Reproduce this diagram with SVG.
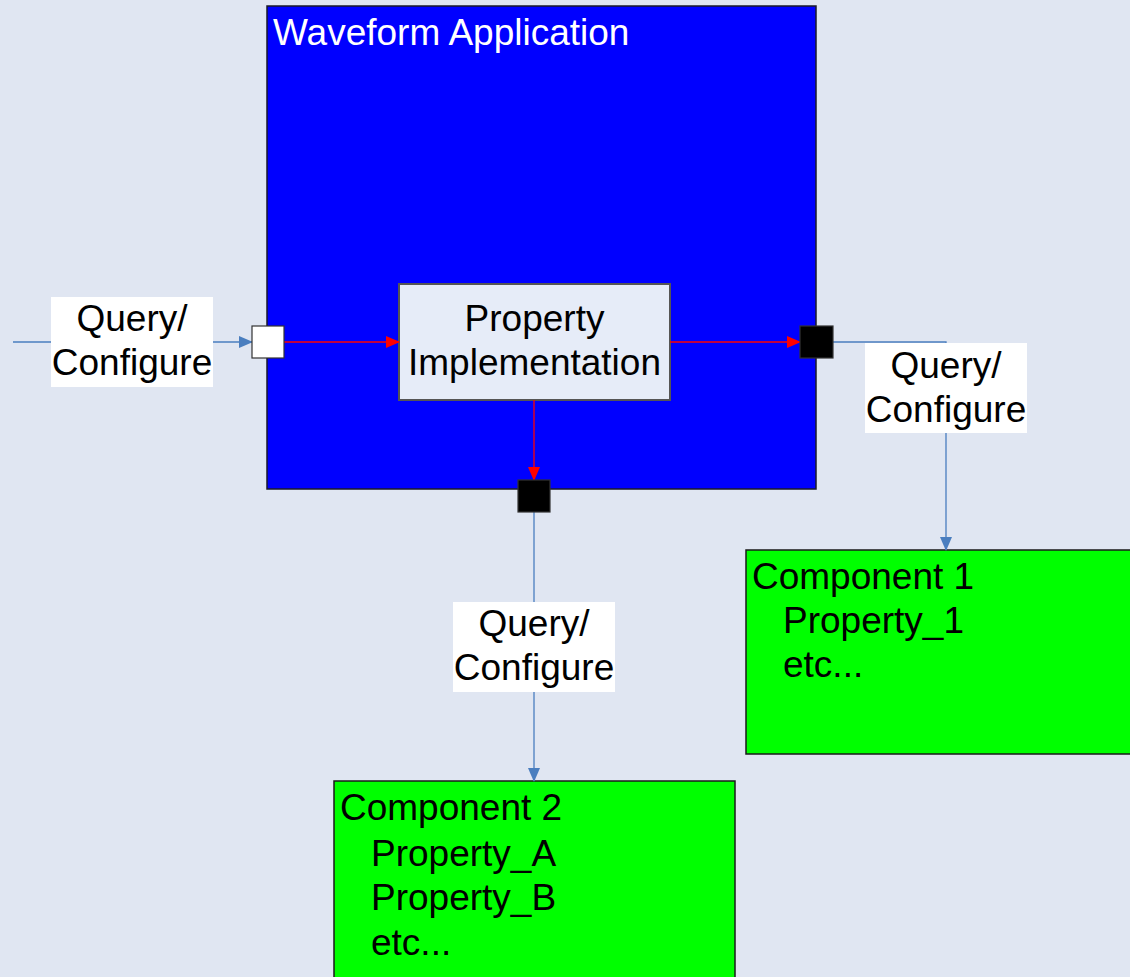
<svg xmlns="http://www.w3.org/2000/svg" width="1130" height="977" viewBox="0 0 1130 977">
<style>
text{font-family:"Liberation Sans",Arial,sans-serif;font-size:37px;fill:#000}
.blue{stroke:#4a7ebf;stroke-width:1.3;fill:none}
.red{stroke:#ff0000;stroke-width:1.3;fill:none}
.lbl{fill:#ffffff}
.comp{fill:#00ff00;stroke:#1a1a1a;stroke-width:1.5}
.port{stroke:#333;stroke-width:1.2}
</style>
<defs>
<marker id="ab" markerWidth="14" markerHeight="14" refX="13" refY="7" orient="auto" markerUnits="userSpaceOnUse"><path d="M0,1 L14,7 L0,13 Z" fill="#4a7ebf"/></marker>
<marker id="ar" markerWidth="14" markerHeight="14" refX="13" refY="7" orient="auto" markerUnits="userSpaceOnUse"><path d="M0,1 L14,7 L0,13 Z" fill="#ff0000"/></marker>
</defs>
<rect x="0" y="0" width="1130" height="977" fill="#e0e6f2"/>
<g id="waveform">
<rect x="267" y="6" width="549" height="483" fill="#0000ff" stroke="#1a1a2a" stroke-width="1.5"/>
<text x="273" y="45" style="fill:#ffffff">Waveform Application</text>
</g>
<g id="property-impl">
<rect x="399" y="284" width="271" height="116" fill="#e6ecf8" stroke="#555" stroke-width="2"/>
<text x="534.5" y="331" text-anchor="middle">Property</text>
<text x="534.5" y="375" text-anchor="middle">Implementation</text>
</g>
<g id="component1">
<rect class="comp" x="746" y="550" width="390" height="204"/>
<text x="752" y="589">Component 1</text>
<text x="783" y="633">Property_1</text>
<text x="783" y="677">etc...</text>
</g>
<g id="component2">
<rect class="comp" x="334" y="781" width="401" height="200"/>
<text x="340" y="820">Component 2</text>
<text x="371" y="866">Property_A</text>
<text x="371" y="910">Property_B</text>
<text x="371" y="955">etc...</text>
</g>
<g id="connectors">
<line class="blue" x1="13" y1="342" x2="252" y2="342" marker-end="url(#ab)"/>
<line class="red" x1="284" y1="342" x2="399" y2="342" marker-end="url(#ar)"/>
<line class="red" x1="670" y1="342" x2="800" y2="342" marker-end="url(#ar)"/>
<line class="red" x1="534" y1="400" x2="534" y2="480" marker-end="url(#ar)"/>
<polyline class="blue" points="833,342 946,342 946,550" marker-end="url(#ab)"/>
<line class="blue" x1="534" y1="512" x2="534" y2="781" marker-end="url(#ab)"/>
</g>
<g id="port-in">
<rect class="port" x="252" y="326" width="32" height="32" fill="#ffffff"/>
</g>
<g id="port-out-right">
<rect class="port" x="800" y="326" width="33" height="32" fill="#000000"/>
</g>
<g id="port-out-bottom">
<rect class="port" x="518" y="480" width="32" height="32" fill="#000000"/>
</g>
<g id="label-left">
<rect class="lbl" x="51" y="297" width="162" height="90"/>
<text x="132" y="331" text-anchor="middle">Query/</text>
<text x="132" y="375" text-anchor="middle">Configure</text>
</g>
<g id="label-right">
<rect class="lbl" x="865" y="343" width="162" height="90"/>
<text x="946" y="378" text-anchor="middle">Query/</text>
<text x="946" y="422" text-anchor="middle">Configure</text>
</g>
<g id="label-bottom">
<rect class="lbl" x="453" y="602" width="162" height="90"/>
<text x="534" y="636" text-anchor="middle">Query/</text>
<text x="534" y="680" text-anchor="middle">Configure</text>
</g>
</svg>
